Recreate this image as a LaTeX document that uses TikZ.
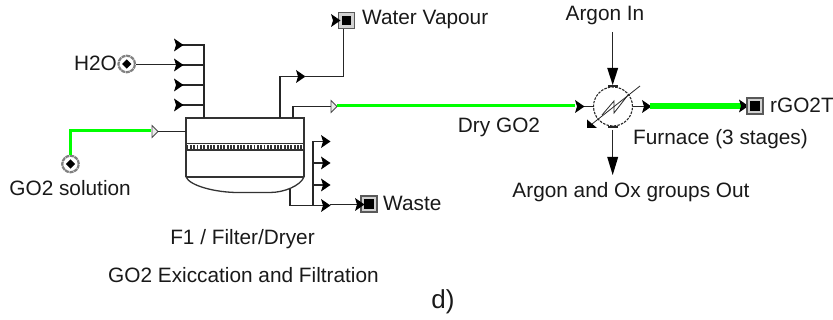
\documentclass[tikz,border=0pt]{standalone}
\usepackage{fontspec}
\setmainfont{Liberation Sans}
\usetikzlibrary{arrows.meta,shapes.geometric}
\definecolor{flowgreen}{RGB}{0,255,0}
\tikzset{
 x=1pt,y=-1pt,
 pipe/.style={draw=black!85,line width=1.2pt},
 thinpipe/.style={draw=black!85,line width=0.8pt},
 vessel/.style={draw=black!80,line width=1.3pt},
 green1/.style={draw=flowgreen,line width=2.4pt},
 green2/.style={draw=flowgreen,line width=6pt},
 lab/.style={font=\fontsize{20.8pt}{24pt}\selectfont,inner sep=0pt,text=black!90},
 solidhead/.style={fill=black,draw=none},
 openhead/.style={fill=black!8,draw=black!70,line width=0.8pt},
 feedring/.style={circle,minimum size=16.5pt,inner sep=0pt,draw=black!50,line width=2.2pt,fill=white,dash pattern=on 4pt off .7pt},
 feedcore/.style={diamond,minimum size=9.5pt,inner sep=0pt,fill=black},
 prodbox/.style={minimum size=16pt,inner sep=0pt,draw=black!65,fill=black!18,line width=1.5pt},
 prodcore/.style={minimum size=9.5pt,inner sep=0pt,fill=black},
 furn/.style={circle,minimum size=39pt,inner sep=0pt,draw=black!85,line width=1.1pt,dash pattern=on 2.5pt off 1.2pt},
}
\newcommand{\headR}[2]{\fill[solidhead] (#1-2,#2-6.5) -- (#1+7.5,#2) -- (#1-2,#2+6.5) -- (#1,#2) -- cycle;}
\newcommand{\headOpen}[2]{\path[openhead] (#1,#2-6) -- (#1+6,#2) -- (#1,#2+6) -- cycle;}
\begin{document}
\begin{tikzpicture}
\useasboundingbox (0,0) rectangle (833,320);
% vessel
\coordinate (vTL) at (186,118);
\coordinate (vTR) at (304,118);
\coordinate (vBL) at (186,177);
\coordinate (vBR) at (304,177);
\path[vessel] (vBL) -- (vTL) -- (vTR) -- (vBR);
\path[vessel] (vBL) -- (vBR);
\path[vessel] (186,143.5) -- (304,143.5) (186,150) -- (304,150);
\draw[black!80,line width=4pt,dash pattern=on 1.9pt off 1.45pt] (186.5,146.8) -- (304,146.8);
\path[vessel] (vBL) .. controls (190,186) and (216,192.5) .. (238,192.5) -- (270,192.5) .. controls (284,192.5) and (300,186) .. (vBR);
% top manifold
\path[pipe] (204,118) -- (204,45) -- (176,45);
\path[pipe] (204,65) -- (176,65) (204,85) -- (176,85) (204,105) -- (176,105);
\foreach \yy in {45,65,85,105} {\headR{176}{\yy}}
% H2O
\node[feedring] (h2o) at (126.7,64) {};
\node[feedcore] at (h2o.center) {};
\path[thinpipe] (h2o) -- (176,64);
\node[lab,anchor=east] (h2olab) at (117,63.5) {H2O};
% GO2 solution
\node[feedring] (go2) at (70.5,164) {};
\node[feedcore] at (go2.center) {};
\path[green1] (go2.north) -- (70.5,130.7) -- (151,130.7);
\headOpen{152}{131.5}
\path[thinpipe] (158,131.5) -- (186,131.5);
\node[lab,anchor=east] (go2lab) at (131,188) {GO2 solution};
% vapour
\path[pipe] (280,118) -- (280,76.5) -- (298,76.5);
\headR{298}{76.5}
\node[prodbox] (wv) at (346.5,20.5) {};
\node[prodcore] at (wv.center) {};
\path[thinpipe] (304,76.5) -- (343,76.5) -- (wv.south -| 343,0);
\headR{333}{20.5}
\node[lab,anchor=west] (wvlab) at (362,20) {Water Vapour};
% dry GO2
\path[pipe] (293,118) -- (293,106.5) -- (331,106.5);
\headOpen{331}{106.5}
\path[green1] (337,105.7) -- (575,105.7);
\node[lab] (drylab) at (499,127) {Dry GO2};
% furnace
\node[furn] (fu) at (613,106.5) {};
\path[pipe] (578,106.5) -- (fu.west);
\headR{577}{106.5}
\path[thinpipe] (640,86) -- (592,124);
\fill[black] (587,119.5) -- (597,128) -- (587,128) -- cycle;
\path[thinpipe] (602,115) -- (614,101) -- (614,113) -- (628,95);
\path[pipe] (fu.east) -- (649,106.5);
\headR{644}{106.5}
\path[green2] (650,106) -- (742,106);
\headR{741}{106}
\node[prodbox] (rgo) at (755,106) {};
\node[prodcore] at (rgo.center) {};
\node[lab,anchor=west] (rgolab) at (770,105) {rGO2T};
% argon in / out
\path[thinpipe] (612.7,32) -- (612.7,70);
\fill[black] (607.2,68) -- (618.2,68) -- (612.7,85) -- cycle;
\path[pipe] (608,86) -- (618,86) (608,127) -- (618,127);
\path[thinpipe] (612.7,130) -- (612.7,160);
\fill[black] (607.2,157) -- (618.2,157) -- (612.7,175) -- cycle;
\node[lab] (ailab) at (605,15.5) {Argon In};
\node[lab,anchor=west] (fulab) at (633,139) {Furnace (3 stages)};
\node[lab] (aolab) at (631,192) {Argon and Ox groups Out};
% waste
\path[pipe] (290,189) -- (290,205.5) -- (323,205.5);
\path[pipe] (313,205.5) -- (313,141.5) -- (323,141.5) (313,163) -- (323,163) (313,185) -- (323,185);
\foreach \yy in {141.5,163,185,205.5} {\headR{323}{\yy}}
\node[prodbox] (wa) at (369,204) {};
\node[prodcore] at (wa.center) {};
\path[thinpipe] (330,204.5) -- (358,204.5);
\headR{357}{204.5}
\node[lab,anchor=west] (walab) at (383,203) {Waste};
% captions
\node[lab] (f1) at (242.5,239) {F1 / Filter/Dryer};
\node[lab] (f2) at (243.5,275) {GO2 Exiccation and Filtration};
\node[font=\fontsize{26pt}{30pt}\selectfont,inner sep=0pt,text=black!90] (d) at (443,302) {d)};
\end{tikzpicture}
\end{document}
